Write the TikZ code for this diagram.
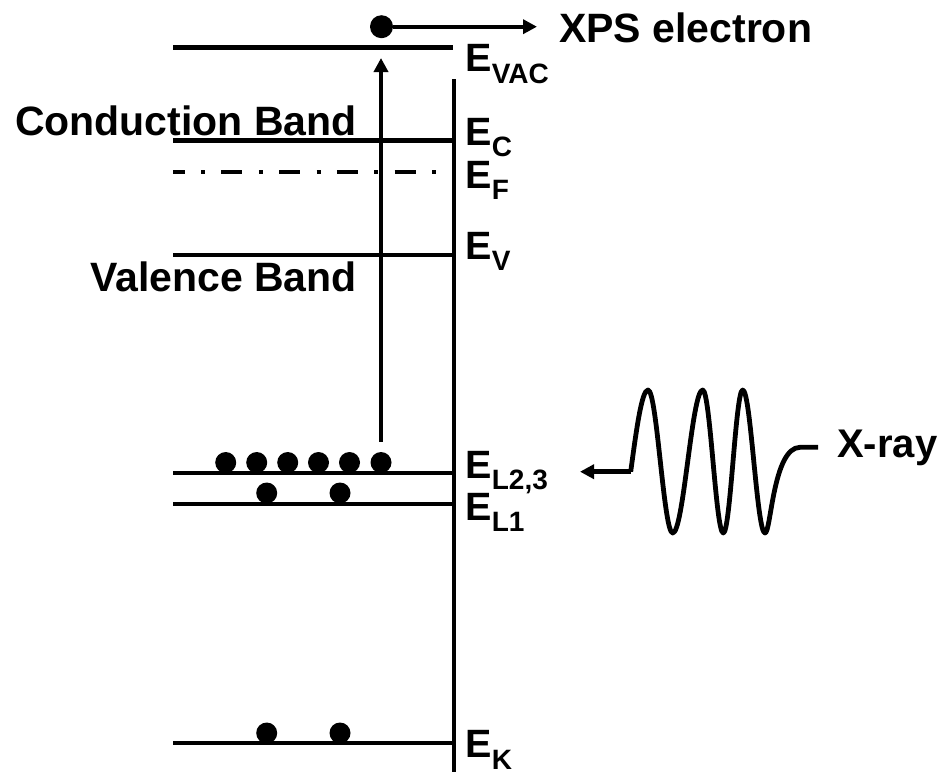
\documentclass[tikz,border=0pt]{standalone}
\usepackage{fontspec}
\setmainfont{Liberation Sans}
\usetikzlibrary{arrows.meta}
\newcommand\elabel[1]{{\fontsize{39.5}{41}\selectfont E}\raisebox{-11.5pt}{\fontsize{28}{30}\selectfont #1}}
\begin{document}
\begin{tikzpicture}[x=1pt,y=-1pt,
  level/.style={line width=4.8pt},
  electron/.style={circle,fill=black,inner sep=0pt,minimum size=21pt},
  bigtext/.style={inner sep=0pt,font=\bfseries\fontsize{41}{48}\selectfont},
  elab/.style={inner sep=0pt,anchor=base west,font=\bfseries},
  tip/.style={-{Triangle[length=14pt,width=14pt]}}
]
\useasboundingbox (0,0) rectangle (949,772);

% axis
\coordinate (axT) at (454,79);
\coordinate (axB) at (454,772);
\draw[level] (axT) -- (axB);

% levels
\coordinate (vacL) at (173,47.3); \coordinate (vacR) at (453,47.3);
\coordinate (cL) at (173,140.7); \coordinate (cR) at (454,140.7);
\coordinate (fL) at (173,172); \coordinate (fR) at (443,172);
\coordinate (vL) at (173,255); \coordinate (vR) at (454,255);
\coordinate (l23L) at (173,473); \coordinate (l23R) at (454,473);
\coordinate (l1L) at (173,504); \coordinate (l1R) at (454,504);
\coordinate (kL) at (173,743); \coordinate (kR) at (454,743);
\draw[level] (vacL) -- (vacR);
\draw[level] (cL) -- (cR);
\draw[line width=4.8pt,dash pattern=on 21pt off 16.5pt on 4pt off 16.2pt,dash phase=9.3pt] (fL) -- (fR);
\draw[level] (vL) -- (vR);
\draw[level] (l23L) -- (l23R);
\draw[level] (l1L) -- (l1R);
\draw[level] (kL) -- (kR);

% electrons
\node[electron] (d1) at (225.7,462.5) {};
\node[electron] (d2) at (256.7,462.5) {};
\node[electron] (d3) at (287.7,462.5) {};
\node[electron] (d4) at (318.5,462.5) {};
\node[electron] (d5) at (349.5,462.5) {};
\node[electron] (d6) at (381,462.5) {};
\node[electron] (e1) at (266.7,493) {};
\node[electron] (e2) at (340,493) {};
\node[electron] (k1) at (266.7,733) {};
\node[electron] (k2) at (340,733) {};
\node[electron,minimum size=23pt] (top) at (381.5,26.7) {};

% excitation arrow
\coordinate (arrTop) at (381,58);
\draw[level,tip] (d6.north) ++(0,-10) -- (arrTop);

% emitted electron
\coordinate (xpsTip) at (537,26.7);
\draw[line width=4.2pt,tip] (top) -- (xpsTip);
\node[bigtext,anchor=base west] (xps) at (559,42.7) {XPS electron};

% band labels
\node[bigtext,anchor=base east] (cb) at (357,135) {Conduction Band};
\node[bigtext,anchor=base east] (vb) at (357,291.7) {Valence Band};

% energy labels
\node[elab] (lvac) at (465.3,71.7) {\elabel{VAC}};
\node[elab] (lc) at (465.3,145) {\elabel{C}};
\node[elab] (lf) at (465.3,188) {\elabel{F}};
\node[elab] (lv) at (465.3,259) {\elabel{V}};
\node[elab] (ll23) at (465.3,478) {\elabel{L2,3}};
\node[elab] (ll1) at (465.3,520) {\elabel{L1}};
\node[elab] (lk) at (465.3,757.5) {\elabel{K}};

% x-ray
\coordinate (wS) at (630.7,471.7);
\coordinate (wTip) at (580,471.7);
\coordinate (wE) at (818,447.3);
\draw[line width=4.8pt,tip] (wS) -- (wTip);
\draw[line width=4.8pt,line join=round]
  (wS) sin (648,390) cos (660.3,461.5) sin (672.7,533) cos (687.7,461.5)
  sin (702.7,390) cos (713,461.5) sin (723.3,533) cos (733,461.5)
  sin (742.7,390) cos (753.8,461.5) sin (765,533)
  .. controls (771,533) and (773,447.3) .. (800,447.3) -- (wE);
\node[bigtext,anchor=base west,font=\bfseries\fontsize{40}{48}\selectfont] (xray) at (837,457.3) {X-ray};
\end{tikzpicture}
\end{document}
